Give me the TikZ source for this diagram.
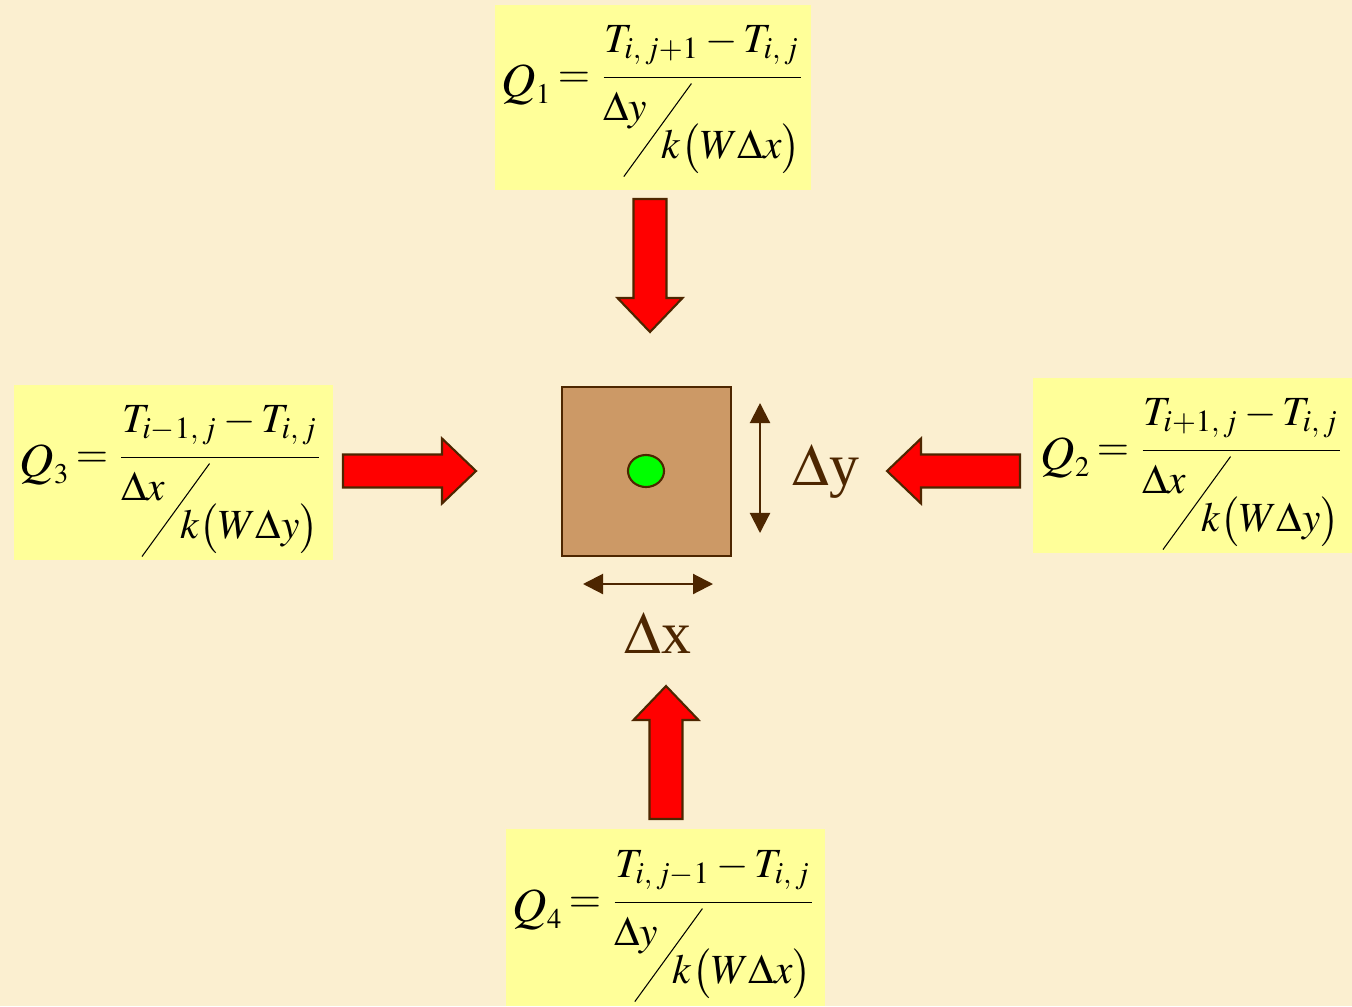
\documentclass[tikz,border=0pt]{standalone}
\usepackage{mathptmx}
\usepackage{fontspec}
\setmainfont{Liberation Serif}
\usetikzlibrary{arrows.meta}
\usetikzlibrary{positioning}
\usetikzlibrary{calc}
\usetikzlibrary{shapes.geometric}

\definecolor{paper}{RGB}{251,239,208}
\definecolor{boxyellow}{RGB}{255,255,153}
\definecolor{darkbrown}{RGB}{77,38,0}
\definecolor{cellbrown}{RGB}{204,153,102}

% slanted fraction a / b with a long thin stroke
\newcommand{\slfrac}[2]{\raisebox{10.8pt}{$#1$}\kern-6.8pt\raisebox{-5.1pt}{\rotatebox{54}{\rule{32.7pt}{0.3pt}}}\kern-8.5pt\mbox{$#2$}}
% Q_n = (T_a - T_ij) / (d / k(W d'))
\newcommand{\qflow}[4]{{\fontsize{13.5}{16}\selectfont$Q_{\scriptscriptstyle #1}$}\hspace{1.6pt}%
  \raisebox{2.4pt}{$=\displaystyle\frac{T_{#2}-T_{i,\,j}\rule[-5.5pt]{0pt}{0pt}}{\slfrac{#3}{#4}}$}}

\tikzset{
  qbox/.style={fill=boxyellow, inner sep=0pt, minimum width=3.19cm, minimum height=1.75cm},
  qformula/.style={anchor=base west, inner sep=0pt, font=\fontsize{11.8}{13.5}\selectfont},
  arrowbody/.style={fill=red, draw=darkbrown, line width=0.6pt, line join=miter},
  cellbox/.style={fill=cellbrown, draw=darkbrown, line width=0.6pt, minimum size=1.69cm, inner sep=0pt},
  dimarrow/.style={draw=darkbrown, line width=0.6pt, {Triangle[length=0.2cm,width=0.2cm]}-{Triangle[length=0.2cm,width=0.2cm]}},
  dimlabel/.style={text=darkbrown, font=\fontsize{17}{20}\selectfont, inner sep=0pt},
  redarrow/.pic={
    \draw[arrowbody] (0,-16.5) -- (99,-16.5) -- (99,-32.5) -- (133,0)
      -- (99,32.5) -- (99,16.5) -- (0,16.5) -- cycle;
  }
}

\begin{document}
\begin{tikzpicture}[x=0.01cm, y=-0.01cm]
  \useasboundingbox (0,0) rectangle (1352,1006);
  \fill[paper] (0,0) rectangle (1352,1006);

  % the four heat flows
  \node[qbox, minimum width=3.16cm, minimum height=1.85cm] (q1) at (653,97.5) {};
  \node[qbox] (q2) at (1192.5,465.5) {};
  \node[qbox] (q3) at (173.5,472.5) {};
  \node[qbox, minimum height=1.77cm] (q4) at (665.5,917.5) {};

  \node[qformula] (f1) at ($(q1.north west)+(7,92)$)
    {\qflow{1}{i,\,j+1}{\Delta y}{k\bigl(W\Delta x\bigr)}};
  \node[qformula] (f2) at ($(q2.north west)+(8,92)$)
    {\qflow{2}{i+1,\,j}{\Delta x}{k\bigl(W\Delta y\bigr)}};
  \node[qformula] (f3) at ($(q3.north west)+(6,92)$)
    {\qflow{3}{i-1,\,j}{\Delta x}{k\bigl(W\Delta y\bigr)}};
  \node[qformula] (f4) at ($(q4.north west)+(7,93)$)
    {\qflow{4}{i,\,j-1}{\Delta y}{k\bigl(W\Delta x\bigr)}};

  \pic[rotate=-90] at (650,199) {redarrow};
  \pic at (343,471) {redarrow};
  \pic[rotate=180] at (1020,471) {redarrow};
  \pic[rotate=90] at (666,819) {redarrow};

  % the cell
  \node[cellbox] (cell) at (646.5,471.5) {};
  \node[ellipse, fill=green, draw=darkbrown, line width=0.6pt,
        minimum width=0.36cm, minimum height=0.32cm, inner sep=0pt] (node) at (646,471) {};

  \coordinate (dxl) at (583,584);
  \coordinate (dxr) at (713,584);
  \coordinate (dyt) at (760,403);
  \coordinate (dyb) at (760,533);
  \draw[dimarrow] (dxl) -- (dxr);
  \draw[dimarrow] (dyt) -- (dyb);

  \node[dimlabel, anchor=base west] (dy) at (792,485) {$\Delta$y};
  \node[dimlabel, anchor=base west] (dx) at (624,653) {$\Delta$x};
\end{tikzpicture}
\end{document}
